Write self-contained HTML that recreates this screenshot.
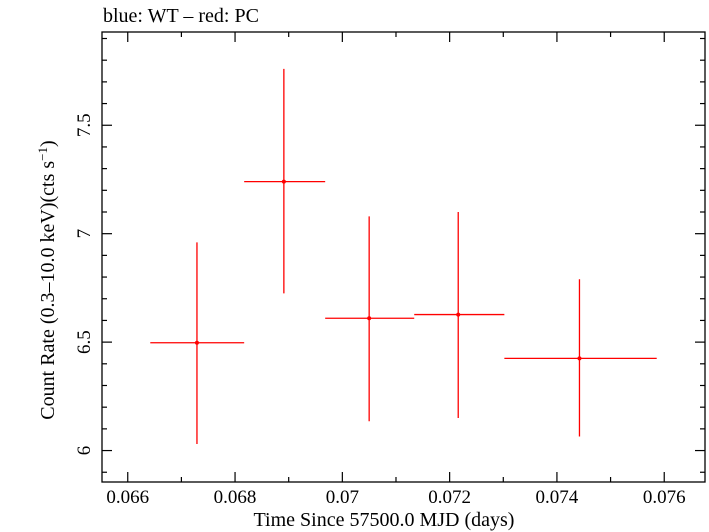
<!DOCTYPE html>
<html><head><meta charset="utf-8"><style>
html,body{margin:0;padding:0;background:#fff;}
svg{display:block;font-family:"Liberation Serif",serif;}
</style></head><body>
<svg id="chart" width="709" height="532" viewBox="0 0 709 532" xmlns="http://www.w3.org/2000/svg">
<text x="103" y="22" font-size="20">blue: WT – red: PC</text>
<rect x="102" y="32" width="603" height="450" fill="none" stroke="#000" stroke-width="1.3"/>
<g id="ticks"></g>
<g id="marks"></g>
<text x="384" y="526" font-size="20" text-anchor="middle">Time Since 57500.0 MJD (days)</text>
<text transform="translate(54,280) rotate(-90)" font-size="20" text-anchor="middle">Count Rate (0.3–10.0 keV)(cts s<tspan font-size="13" dy="-7">−1</tspan><tspan dy="7">)</tspan></text>
</svg>
<script>
const xTickVals=[0.066,0.068,0.070,0.072,0.074,0.076];
const xTickLabels=["0.066","0.068","0.07","0.072","0.074","0.076"];
const yTickVals=[6,6.5,7,7.5];
const yTickLabels=["6","6.5","7","7.5"];
const times=[0.06729,0.06891,0.0705,0.07216,0.07442];
const tLow=[0.06642,0.06817,0.06968,0.07134,0.07302];
const tHigh=[0.06817,0.06968,0.07134,0.07302,0.07586];
const rates=[6.497,7.24,6.61,6.627,6.425];
const rateHigh=[6.96,7.76,7.08,7.10,6.79];
const rateLow=[6.03,6.725,6.135,6.15,6.065];

const L=102,R=705,T=32,B=482;
const X0=0.06552,X1=0.07676,Y0=5.855,Y1=7.93;
const sx=v=>L+(v-X0)/(X1-X0)*(R-L);
const sy=v=>B-(v-Y0)/(Y1-Y0)*(B-T);
const NS="http://www.w3.org/2000/svg";
function mk(tag,attrs,parent){const e=document.createElementNS(NS,tag);for(const k in attrs)e.setAttribute(k,attrs[k]);parent.appendChild(e);return e;}
const tg=document.getElementById('ticks');
for(let v=0.065;v<=0.0775;v+=0.001){
  const x=sx(v); if(x<L+1||x>R-1)continue;
  const major=Math.abs(Math.round(v*500)-v*500)<1e-6;
  const len=major?10:5;
  const a=mk('line',{x1:x,x2:x,y1:B,y2:B-len,stroke:'#000','stroke-width':1.2},tg);
  
  
  const b=mk('line',{x1:x,x2:x,y1:T,y2:T+len,stroke:'#000','stroke-width':1.2},tg);
  
  
}
xTickVals.forEach((v,i)=>{
  const t=mk('text',{x:sx(v),y:503,'font-size':19,'text-anchor':'middle'},tg);
  t.textContent=xTickLabels[i];
  
  
});
for(let k=58;k<=79;k++){
  const v=k/10,y=sy(v); if(y<T+1||y>B-1)continue;
  const major=k%5===0,len=major?10:5;
  const a=mk('line',{x1:L,x2:L+len,y1:y,y2:y,stroke:'#000','stroke-width':1.2},tg);
  
  
  const b=mk('line',{x1:R,x2:R-len,y1:y,y2:y,stroke:'#000','stroke-width':1.2},tg);
  
  
}
yTickVals.forEach((v,i)=>{
  const y=sy(v);
  const t=mk('text',{transform:`translate(90,${y}) rotate(-90)`,'font-size':19,'text-anchor':'middle'},tg);
  t.textContent=yTickLabels[i];
  
  
});
const mg=document.getElementById('marks');
times.forEach((t,i)=>{
  const g=mk('g',{},mg);
  
  
  mk('line',{x1:sx(tLow[i]),x2:sx(tHigh[i]),y1:sy(rates[i]),y2:sy(rates[i]),stroke:'#f00','stroke-width':1.3},g);
  mk('line',{x1:sx(t),x2:sx(t),y1:sy(rateLow[i]),y2:sy(rateHigh[i]),stroke:'#f00','stroke-width':1.3},g);
  mk('circle',{cx:sx(t),cy:sy(rates[i]),r:2,fill:'#f00'},g);
});
</script>
</body></html>
